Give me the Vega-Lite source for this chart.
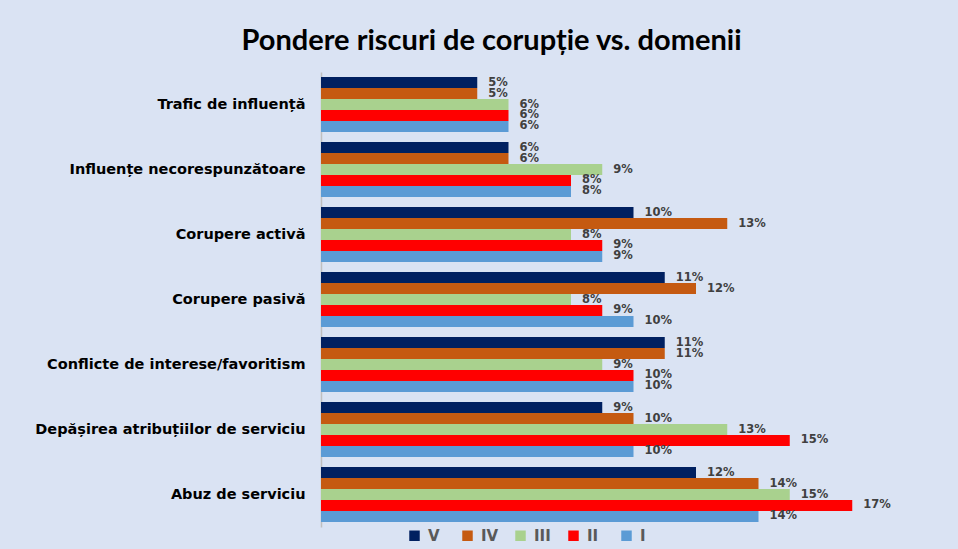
{
  "$schema": "https://vega.github.io/schema/vega-lite/v6.json",
  "autosize": "none",
  "width": 625,
  "height": 455,
  "padding": {"left": 321, "top": 72, "right": 12, "bottom": 22},
  "background": "#DAE3F3",
  "title": {
    "text": "Pondere riscuri de corupție vs. domenii",
    "font": "Lato",
    "fontSize": 29,
    "fontWeight": "bold",
    "color": "#000000",
    "anchor": "middle",
    "dx": -142,
    "offset": 16
  },
  "config": {
    "view": {"stroke": null},
    "font": "DejaVu Sans"
  },
  "data": {
    "values": [
      {"cat": "Trafic de influență", "s": "V", "v": 0.05},
      {"cat": "Trafic de influență", "s": "IV", "v": 0.05},
      {"cat": "Trafic de influență", "s": "III", "v": 0.06},
      {"cat": "Trafic de influență", "s": "II", "v": 0.06},
      {"cat": "Trafic de influență", "s": "I", "v": 0.06},
      {"cat": "Influențe necorespunzătoare", "s": "V", "v": 0.06},
      {"cat": "Influențe necorespunzătoare", "s": "IV", "v": 0.06},
      {"cat": "Influențe necorespunzătoare", "s": "III", "v": 0.09},
      {"cat": "Influențe necorespunzătoare", "s": "II", "v": 0.08},
      {"cat": "Influențe necorespunzătoare", "s": "I", "v": 0.08},
      {"cat": "Corupere activă", "s": "V", "v": 0.10},
      {"cat": "Corupere activă", "s": "IV", "v": 0.13},
      {"cat": "Corupere activă", "s": "III", "v": 0.08},
      {"cat": "Corupere activă", "s": "II", "v": 0.09},
      {"cat": "Corupere activă", "s": "I", "v": 0.09},
      {"cat": "Corupere pasivă", "s": "V", "v": 0.11},
      {"cat": "Corupere pasivă", "s": "IV", "v": 0.12},
      {"cat": "Corupere pasivă", "s": "III", "v": 0.08},
      {"cat": "Corupere pasivă", "s": "II", "v": 0.09},
      {"cat": "Corupere pasivă", "s": "I", "v": 0.10},
      {"cat": "Conflicte de interese/favoritism", "s": "V", "v": 0.11},
      {"cat": "Conflicte de interese/favoritism", "s": "IV", "v": 0.11},
      {"cat": "Conflicte de interese/favoritism", "s": "III", "v": 0.09},
      {"cat": "Conflicte de interese/favoritism", "s": "II", "v": 0.10},
      {"cat": "Conflicte de interese/favoritism", "s": "I", "v": 0.10},
      {"cat": "Depășirea atribuțiilor de serviciu", "s": "V", "v": 0.09},
      {"cat": "Depășirea atribuțiilor de serviciu", "s": "IV", "v": 0.10},
      {"cat": "Depășirea atribuțiilor de serviciu", "s": "III", "v": 0.13},
      {"cat": "Depășirea atribuțiilor de serviciu", "s": "II", "v": 0.15},
      {"cat": "Depășirea atribuțiilor de serviciu", "s": "I", "v": 0.10},
      {"cat": "Abuz de serviciu", "s": "V", "v": 0.12},
      {"cat": "Abuz de serviciu", "s": "IV", "v": 0.14},
      {"cat": "Abuz de serviciu", "s": "III", "v": 0.15},
      {"cat": "Abuz de serviciu", "s": "II", "v": 0.17},
      {"cat": "Abuz de serviciu", "s": "I", "v": 0.14}
    ]
  },
  "encoding": {
    "y": {
      "field": "cat",
      "type": "nominal",
      "sort": null,
      "scale": {"paddingInner": 0.154, "paddingOuter": 0.077},
      "axis": {
        "title": null,
        "ticks": false,
        "domainColor": "#BFBFBF",
        "domainWidth": 1.5,
        "labelFont": "DejaVu Sans",
        "labelFontWeight": "bold",
        "labelFontSize": 14.5,
        "labelColor": "#000000",
        "labelPadding": 16,
        "labelLimit": 320
      }
    },
    "yOffset": {
      "field": "s",
      "type": "nominal",
      "sort": ["V", "IV", "III", "II", "I"],
      "scale": {"paddingInner": 0, "paddingOuter": 0}
    },
    "x": {
      "field": "v",
      "type": "quantitative",
      "scale": {"domain": [0, 0.2], "nice": false},
      "axis": null
    }
  },
  "layer": [
    {
      "mark": {"type": "bar", "cornerRadius": 0},
      "encoding": {
        "color": {
          "field": "s",
          "type": "nominal",
          "scale": {
            "domain": ["V", "IV", "III", "II", "I"],
            "range": ["#002060", "#C55A11", "#A9D18E", "#FF0000", "#5B9BD5"]
          },
          "legend": {
            "title": null,
            "orient": "none",
            "legendX": 86,
            "legendY": 456,
            "direction": "horizontal",
            "symbolType": "square",
            "symbolSize": 110,
            "symbolStrokeWidth": 0,
            "labelFont": "DejaVu Sans",
            "labelFontWeight": "bold",
            "labelFontSize": 15,
            "labelColor": "#595959",
            "gridAlign": "all",
            "columnPadding": 14,
            "labelOffset": 6
          }
        }
      }
    },
    {
      "mark": {
        "type": "text",
        "align": "left",
        "baseline": "middle",
        "dx": 11,
        "font": "DejaVu Sans",
        "fontWeight": "bold",
        "fontSize": 11.5,
        "color": "#404040"
      },
      "encoding": {
        "text": {"field": "v", "type": "quantitative", "format": ".0%"}
      }
    }
  ]
}
